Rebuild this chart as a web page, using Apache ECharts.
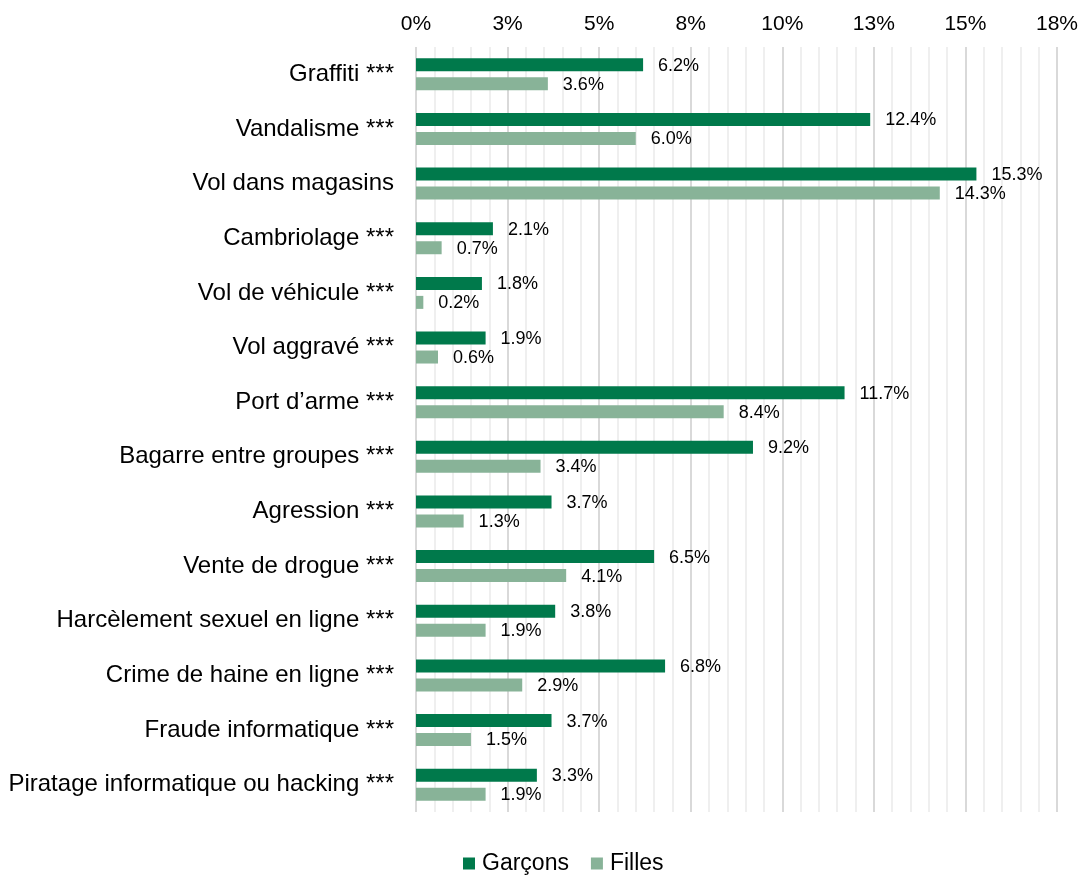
<!DOCTYPE html>
<html>
<head>
<meta charset="utf-8">
<script src="https://cdn.jsdelivr.net/npm/echarts@6/dist/echarts.min.js"></script>
<style>
  html, body { margin: 0; padding: 0; background: #fff; }
  #chart { width: 1085px; height: 877px; }
</style>
</head>
<body>
<div id="chart"></div>
<script>
// Offence categories (top to bottom)
const categories = [
  'Graffiti ***',
  'Vandalisme ***',
  'Vol dans magasins',
  'Cambriolage ***',
  'Vol de véhicule ***',
  'Vol aggravé ***',
  'Port d’arme ***',
  'Bagarre entre groupes ***',
  'Agression ***',
  'Vente de drogue ***',
  'Harcèlement sexuel en ligne ***',
  'Crime de haine en ligne ***',
  'Fraude informatique ***',
  'Piratage informatique ou hacking ***'
];

// Prevalence in percent
const garcons = [6.2, 12.4, 15.3, 2.1, 1.8, 1.9, 11.7, 9.2, 3.7, 6.5, 3.8, 6.8, 3.7, 3.3];
const filles  = [3.6, 6.0, 14.3, 0.7, 0.2, 0.6, 8.4, 3.4, 1.3, 4.1, 1.9, 2.9, 1.5, 1.9];

// Axis tick labels (one per 2.5 % step)
const tickLabels = ['0%', '3%', '5%', '8%', '10%', '13%', '15%', '18%'];

const FONT = '"Liberation Sans", Arial, sans-serif';
const TEXT = '#000000';

const chart = echarts.init(document.getElementById('chart'), null, { renderer: 'canvas' });

const labelStyle = {
  show: true,
  position: 'right',
  distance: 15,
  color: TEXT,
  fontFamily: FONT,
  fontSize: 18,
  offset: [0, 1],
  formatter: p => p.value.toFixed(1) + '%'
};

chart.setOption({
  animation: false,
  textStyle: { fontFamily: FONT },
  grid: { left: 416, right: 28, top: 47, bottom: 65, containLabel: false },
  legend: {
    data: ['Garçons', 'Filles'],
    left: 458,
    top: 847,
    icon: 'rect',
    itemWidth: 12,
    itemHeight: 12,
    itemGap: 22,
    textStyle: { fontFamily: FONT, fontSize: 23, color: TEXT, padding: [0, 0, 0, 2] }
  },
  xAxis: {
    type: 'value',
    position: 'top',
    min: 0,
    max: 17.5,
    interval: 2.5,
    axisLine: { show: false },
    axisTick: { show: false },
    axisLabel: {
      margin: 12,
      fontSize: 21,
      color: TEXT,
      fontFamily: FONT,
      formatter: v => tickLabels[Math.round(v / 2.5)]
    },
    splitLine: { show: true, lineStyle: { color: '#d9d9d9', width: 2 } },
    minorTick: { show: false, splitNumber: 5 },
    minorSplitLine: { show: true, lineStyle: { color: '#efefef', width: 2 } }
  },
  yAxis: {
    type: 'category',
    data: categories,
    inverse: true,
    axisLine: { show: false },
    axisTick: { show: false },
    axisLabel: {
      margin: 22,
      fontSize: 24,
      color: TEXT,
      fontFamily: FONT,
      padding: [6, 0, 0, 0]
    }
  },
  series: [
    {
      name: 'Garçons',
      type: 'bar',
      data: garcons,
      barWidth: 13,
      barGap: '46%',
      itemStyle: { color: '#00794B' },
      label: labelStyle
    },
    {
      name: 'Filles',
      type: 'bar',
      data: filles,
      barWidth: 13,
      itemStyle: { color: '#88B398' },
      label: labelStyle
    }
  ]
});
</script>
</body>
</html>
